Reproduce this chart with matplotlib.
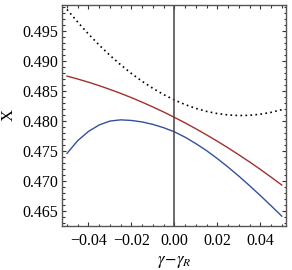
import matplotlib
matplotlib.use("Agg")
import matplotlib.pyplot as plt
from matplotlib.ticker import MultipleLocator, FixedLocator

plt.rcParams['font.family'] = ['Liberation Serif', 'DejaVu Serif']
plt.rcParams['mathtext.fontset'] = 'stix'

x_vals = [-0.050, -0.045, -0.040, -0.035, -0.030, -0.025, -0.020, -0.015, -0.010, -0.005,
          0.000, 0.005, 0.010, 0.015, 0.020, 0.025, 0.030, 0.035, 0.040, 0.045, 0.050]

dotted_vals = [0.49862, 0.49650, 0.49451, 0.49266, 0.49095, 0.48937, 0.48792, 0.48661, 0.48544, 0.48440,
               0.48350, 0.48273, 0.48209, 0.48159, 0.48123, 0.48100, 0.48090, 0.48094, 0.48112, 0.48143, 0.48188]

red_vals = [0.48749, 0.48700, 0.48647, 0.48589, 0.48526, 0.48460, 0.48389, 0.48313, 0.48233, 0.48149,
            0.48060, 0.47967, 0.47869, 0.47767, 0.47661, 0.47550, 0.47434, 0.47315, 0.47191, 0.47062, 0.46929]

blue_vals = [0.47458, 0.47671, 0.47825, 0.47933, 0.47998, 0.48018, 0.48008, 0.47983, 0.47942, 0.47887,
             0.47818, 0.47728, 0.47621, 0.47503, 0.47371, 0.47229, 0.47078, 0.46919, 0.46754, 0.46584, 0.46410]

x_ticks = [-0.04, -0.02, 0.00, 0.02, 0.04]
x_tick_labels = ['\u22120.04', '\u22120.02', '0.00', '0.02', '0.04']
y_ticks = [0.465, 0.470, 0.475, 0.480, 0.485, 0.490, 0.495]
y_tick_labels = ['0.465', '0.470', '0.475', '0.480', '0.485', '0.490', '0.495']

fig = plt.figure(figsize=(2.92, 2.70), dpi=100)
ax = fig.add_axes([0.214, 0.164, 0.765, 0.817])

ax.plot(x_vals, dotted_vals, color='black', lw=1.2, linestyle=(0, (1, 2)))
ax.plot(x_vals, red_vals, color='#a0302e', lw=1.0)
ax.plot(x_vals, blue_vals, color='#34509a', lw=1.0)
ax.axvline(0.0, color='#444444', lw=1.1)

ax.set_xlim(-0.0521, 0.0519)
ax.set_ylim(0.4625, 0.49934)

ax.xaxis.set_major_locator(FixedLocator(x_ticks))
ax.set_xticklabels(x_tick_labels)
ax.yaxis.set_major_locator(FixedLocator(y_ticks))
ax.set_yticklabels(y_tick_labels)
ax.xaxis.set_minor_locator(MultipleLocator(0.005))
ax.yaxis.set_minor_locator(MultipleLocator(0.001))

ax.tick_params(which='both', direction='in', top=True, right=True, color='#333333',
               labelsize=11.5, width=0.8, pad=3)
ax.tick_params(axis='x', which='major', pad=5)
ax.tick_params(which='major', length=3.2)
ax.tick_params(which='minor', length=1.8)
for s in ax.spines.values():
    s.set_color('#555555')
    s.set_linewidth(1.0)

ax.set_ylabel('X', fontsize=12, labelpad=4)
ax.set_xlabel(r'$\gamma\!-\!\gamma_R$', fontsize=12, labelpad=3.5)

fig.savefig('out.png', dpi=100)
